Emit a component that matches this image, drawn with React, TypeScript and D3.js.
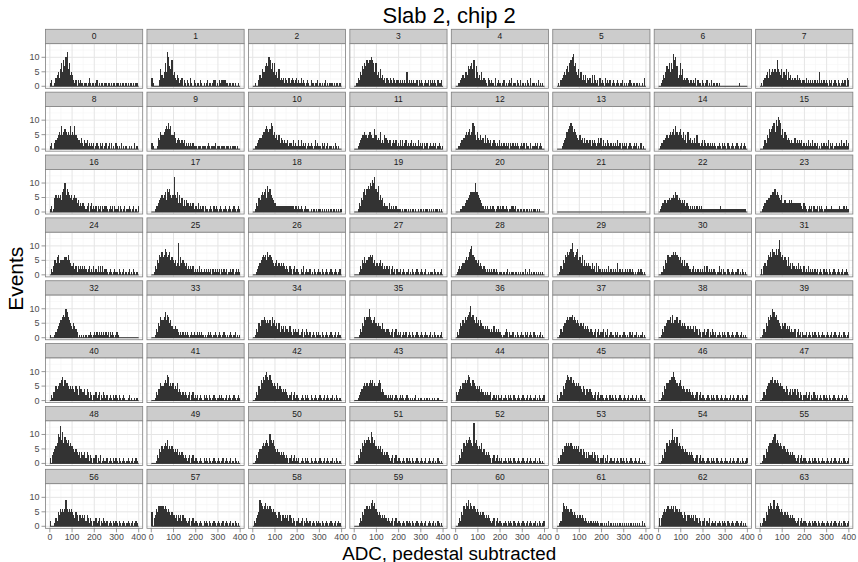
import * as d3 from 'd3';
import React from 'react';

// counts per 5-ADC bin (0..400), one char per bin: 0-9 then a=10 .. e=14
const row0 = [
  "1200134536" + "8597ac6845" + "4212021211" + "0110131011" + "0120101101" + "1011010110" + "1101011010" + "1011010110",
  "3100000264" + "3585ca7694" + "5324312302" + "1021031021" + "0110210101" + "2011012201" + "0212222110" + "1101010010",
  "0010024365" + "5787a96858" + "4536232313" + "2131232123" + "1213121012" + "1021101120" + "1010120101" + "1101011010",
  "0013254768" + "79899a9858" + "4536342313" + "2132132122" + "1212121512" + "1212112021" + "2101212021" + "2121021120",
  "0011234355" + "4767869375" + "3425232103" + "2121030121" + "1012010121" + "3011021020" + "1010210301" + "1010201010",
  "0102345467" + "589ab78546" + "3524241323" + "1414212031" + "2103121201" + "2101210120" + "1010121011" + "0110101030",
  "0012435768" + "586b9a7348" + "4623232122" + "1213021102" + "1012010201" + "1010100000" + "0000000000" + "0010000000",
  "0102345364" + "5656596546" + "3546253423" + "2324232122" + "1312121212" + "1215121212" + "1021201210" + "2101212032",
];
const row1 = [
  "1200234565" + "8567656585" + "6585433242" + "1323121212" + "0121021201" + "2012020102" + "1010201010" + "0101002010",
  "2100014365" + "5678797855" + "6423432323" + "1212121211" + "1011101110" + "1210111201" + "1101110111" + "0101110100",
  "0011234456" + "6787679856" + "4535243232" + "2312213121" + "1313121201" + "2121013121" + "1021201201" + "1010210100",
  "0001234556" + "5456654475" + "3436232543" + "2331232312" + "1313123121" + "2312121312" + "1202120121" + "1212012101",
  "0011233456" + "5675698536" + "4353425243" + "2312321213" + "1212121202" + "1212121012" + "1202110201" + "1212012100",
  "0000123466" + "7898676543" + "5342423323" + "1323212424" + "1312132121" + "2121312021" + "2120121012" + "1201020100",
  "0122334545" + "6567586567" + "5463526342" + "3242522123" + "1321212121" + "2101210212" + "1021012101" + "2101201210",
  "0001325476" + "7896a8ba95" + "7465343232" + "2423232312" + "1213121312" + "1201021212" + "1302120121" + "1213121312",
];
const row2 = [
  "1201565656" + "478a687656" + "4565342323" + "3212302312" + "1202120212" + "2101212021" + "1202101201" + "1210120102",
  "0001223456" + "5674878656" + "c657363524" + "2433232312" + "2131212021" + "1012102121" + "0121012101" + "2101210121",
  "0013254676" + "7859786543" + "3222222222" + "2222222122" + "1212101211" + "1010110101" + "1010101010" + "1011010101",
  "0001325478" + "6898a9bac8" + "7946452322" + "1312121211" + "1101011010" + "1011010101" + "1010110101" + "0101101010",
  "0000112234" + "4567777a77" + "6543212121" + "1212101221" + "2121121011" + "2212011011" + "0101101010" + "1101010000",
  "0000000000" + "0000000000" + "0000000000" + "0000000000" + "0000000000" + "0000000000" + "0000000000" + "0000000000",
  "0123344345" + "4556576454" + "3434232121" + "2121212121" + "1111111111" + "1111121111" + "1111111111" + "1111111110",
  "0012344556" + "6778676546" + "3343334343" + "3333333213" + "2101212021" + "1202121012" + "1111211111" + "1211121211",
];
const row3 = [
  "0213546745" + "5556657543" + "3423132323" + "2321231213" + "1213131312" + "2101210121" + "1021012010" + "1201021010",
  "0013254768" + "6798678565" + "4534b36454" + "3423232312" + "1213121212" + "1212021212" + "1202121201" + "1212012121",
  "0001234567" + "6758676543" + "4534343432" + "3213202312" + "2102130121" + "1201021012" + "1021012101" + "2101210120",
  "0000132546" + "4566767453" + "4345342323" + "2302312021" + "1201210120" + "1021012101" + "2101201011" + "1021010120",
  "0123234456" + "5689a76554" + "5343232121" + "2121212101" + "1101012010" + "1101101010" + "1020102010" + "1010101010",
  "0013254768" + "789b867895" + "6473534343" + "2423141321" + "2121213121" + "2121412121" + "1212121210" + "1012121010",
  "0011325476" + "6778787656" + "4535343221" + "2312121212" + "1313121212" + "2101312021" + "1021012101" + "1201021010",
  "0203435768" + "6987979c86" + "7565363424" + "3232423213" + "1213121212" + "1201210212" + "1021012101" + "2101201210",
];
const row4 = [
  "1000123456" + "6787a97654" + "3543201010" + "1010112101" + "2121212121" + "2120212101" + "2100000000" + "0000000000",
  "0001325476" + "6796875643" + "3433212121" + "2121012121" + "1212121010" + "1212101210" + "1210121010" + "1210120101",
  "0013254666" + "7656564756" + "4535243424" + "3324213232" + "2312302132" + "1201210212" + "1021012101" + "2101201210",
  "0000132547" + "677a765675" + "4544353323" + "3212302312" + "1201212012" + "1021012101" + "2101210120" + "1021010120",
  "0213546576" + "789b786575" + "6465434343" + "3232423232" + "2101232021" + "1201021012" + "1021201210" + "2101012010",
  "0013245567" + "6778676565" + "4545343432" + "3212302312" + "2302130121" + "1021201012" + "2101021201" + "1201012010",
  "0013244566" + "7585667566" + "4545434343" + "3424313202" + "2312302132" + "1201210212" + "1021012101" + "2101201010",
  "0013254768" + "7a97866543" + "5453434232" + "2302312021" + "1201210212" + "1021012101" + "2101201210" + "1201021012",
];
const row5 = [
  "0213354566" + "7857665454" + "5435425443" + "3424313202" + "2312302132" + "1201210212" + "1021012100" + "1201001010",
  "0001324465" + "5676985656" + "4546343232" + "3212302312" + "1201210212" + "1021012101" + "1212101201" + "2101210121",
  "0013254768" + "79a8797656" + "5464543434" + "3212302312" + "2101210212" + "1021012101" + "2101201210" + "1201021010",
  "0001234456" + "5656767565" + "5676343221" + "2121201210" + "1212101210" + "1010120101" + "1001010100" + "1010010000",
  "3234546676" + "7986576545" + "4534323232" + "2301212021" + "1201210212" + "1021012101" + "2101201210" + "1201021012",
  "2013254679" + "8786765656" + "5435424434" + "3212302312" + "2101210212" + "1021012101" + "2101201210" + "1201021010",
  "0013254667" + "788a876567" + "5454343432" + "3212302312" + "2101210212" + "1021012101" + "2101201210" + "1201021012",
  "0013245667" + "7867676565" + "5435423424" + "3424313202" + "2312302132" + "1201210212" + "1021012101" + "2101201210",
];
const row6 = [
  "2034567a9d" + "8b79878676" + "6545434243" + "3424313202" + "2302130121" + "1201210212" + "1021012101" + "2101201210",
  "0000132546" + "5676856565" + "4545343432" + "3212302312" + "2101210212" + "1021012101" + "2101201210" + "1201021010",
  "0013245567" + "67876a8786" + "5454343432" + "3202312312" + "1201210212" + "1021012101" + "2101201210" + "1201021010",
  "0013254768" + "78987b9786" + "5656453434" + "3212302312" + "2101210212" + "1021012101" + "2101201210" + "1201021010",
  "0013254768" + "789876e786" + "5657453434" + "3202312312" + "1201210212" + "1021012101" + "2101201210" + "1201021010",
  "0213546676" + "7676565656" + "4535424243" + "3424313202" + "2302130121" + "1201210212" + "1021012101" + "2101201010",
  "0013254768" + "78c8979676" + "5654543434" + "3212302312" + "2101210212" + "1021012101" + "2101201210" + "1201021012",
  "0013254677" + "789a787676" + "5654543434" + "3212302312" + "2101210212" + "1021012101" + "2101201210" + "1201021012",
];
const row7 = [
  "2000132546" + "5656965656" + "5435424434" + "3424313202" + "2312302132" + "1201210212" + "1021012101" + "2101201210",
  "5034657777" + "7676565454" + "4342434243" + "3212302312" + "2101210212" + "1021012101" + "2101201210" + "1201021010",
  "0213459876" + "7867676565" + "5435424434" + "3424313202" + "2312302132" + "1201210212" + "1021012101" + "2101201210",
  "0000132546" + "6767689786" + "5454343432" + "3212302312" + "2101210212" + "1021012101" + "2101201210" + "1201021010",
  "0013254768" + "7968767656" + "5454543434" + "3212302312" + "2101210212" + "1021012101" + "2101201210" + "1201021012",
  "0012587676" + "6565454343" + "4343232121" + "2121212101" + "1010102010" + "1010101010" + "1010101010" + "1010102010",
  "3034565676" + "6767576565" + "5435424434" + "3424313202" + "2302130121" + "1201210212" + "1021012101" + "2101201010",
  "1013254768" + "7696787656" + "5454543434" + "3212302312" + "2101210212" + "1021012101" + "2101201210" + "1201021012",
];
const rows = [row0, row1, row2, row3, row4, row5, row6, row7];

const binWidth = 5;
const xTicks = [0, 100, 200, 300, 400];
const xMinor = [50, 150, 250, 350];
const yTicks = [0, 5, 10];
const yMinor = [2.5, 7.5, 12.5];

const W = 858, H = 562;
const left0 = 45.5, colStep = 101.45, pw = 97.2;
const top0 = 29.3, rowStep = 62.86, stripH = 14.4, ph = 44.6;
const font = "'Liberation Sans', Arial, Helvetica, sans-serif";

function Panel({ counts, id, col, row }: { counts: string; id: number; col: number; row: number }) {
  const x = d3.scaleLinear().domain([-19.6, 418]).range([0, pw]);
  const y = d3.scaleLinear().domain([-0.7, 14.7]).range([ph, 0]);
  const vals = counts.split('').map(c => parseInt(c, 16) || 0);
  const tx = left0 + col * colStep;
  const ty = top0 + row * rowStep;
  return (
    <g transform={`translate(${tx},${ty})`}>
      <rect x={0} y={0} width={pw} height={stripH} fill="#cccccc" stroke="#7f7f7f" strokeWidth={0.8} />
      <text x={pw / 2} y={stripH / 2 + 3} textAnchor="middle" fontSize={8.5} fill="#1a1a1a" fontFamily={font}>{id}</text>
      <g transform={`translate(0,${stripH})`}>
        <rect x={0} y={0} width={pw} height={ph} fill="white" />
        {xMinor.map(v => <line key={'xm' + v} x1={x(v)} x2={x(v)} y1={0} y2={ph} stroke="#f5f5f5" strokeWidth={0.6} />)}
        {yMinor.map(v => <line key={'ym' + v} x1={0} x2={pw} y1={y(v)} y2={y(v)} stroke="#f5f5f5" strokeWidth={0.6} />)}
        {xTicks.map(v => <line key={'xg' + v} x1={x(v)} x2={x(v)} y1={0} y2={ph} stroke="#e5e5e5" strokeWidth={1} />)}
        {yTicks.map(v => <line key={'yg' + v} x1={0} x2={pw} y1={y(v)} y2={y(v)} stroke="#e5e5e5" strokeWidth={1} />)}
        <g shapeRendering="crispEdges">
          {vals.map((v, i) => v > 0 ? (
            <rect key={i} x={x(i * binWidth)} width={x(binWidth) - x(0) + 0.1} y={y(v)} height={y(0) - y(v)} fill="#333333" />
          ) : null)}
        </g>
        <line x1={x(0)} x2={x(vals.length * binWidth)} y1={y(0)} y2={y(0)} stroke="#333333" strokeWidth={1} />
        <rect x={0} y={0} width={pw} height={ph} fill="none" stroke="#7f7f7f" strokeWidth={0.8} />
        {col === 0 && yTicks.map(v => (
          <g key={'yt' + v}>
            <line x1={-4} x2={0} y1={y(v)} y2={y(v)} stroke="#7f7f7f" strokeWidth={0.8} />
            <text x={-6} y={y(v) + 3} textAnchor="end" fontSize={9} fill="#4d4d4d" fontFamily={font}>{v}</text>
          </g>
        ))}
        {row === 7 && xTicks.map(v => (
          <g key={'xt' + v}>
            <line x1={x(v)} x2={x(v)} y1={ph} y2={ph + 4} stroke="#7f7f7f" strokeWidth={0.8} />
            <text x={x(v)} y={ph + 12} textAnchor="middle" fontSize={8.8} fill="#4d4d4d" fontFamily={font}>{v}</text>
          </g>
        ))}
      </g>
    </g>
  );
}

export default function App() {
  const cx = left0 + (8 * colStep - (colStep - pw)) / 2;
  return (
    <svg width={W} height={H} style={{ position: 'absolute', left: 0, top: 0, background: 'white' }}>
      <rect width={W} height={H} fill="white" />
      <text x={cx} y={23} textAnchor="middle" fontSize={22} fill="#000" fontFamily={font}>Slab 2, chip 2</text>
      {rows.map((r, ri) => r.map((c, ci) => (
        <Panel key={ri * 8 + ci} counts={c} id={ri * 8 + ci} col={ci} row={ri} />
      )))}
      <text x={cx} y={559.5} textAnchor="middle" fontSize={18.8} fill="#000" fontFamily={font}>ADC, pedestal subtracted</text>
      <text transform={`translate(23,${top0 + 4 * rowStep - 2}) rotate(-90)`} textAnchor="middle" fontSize={21} fill="#000" fontFamily={font}>Events</text>
    </svg>
  );
}
